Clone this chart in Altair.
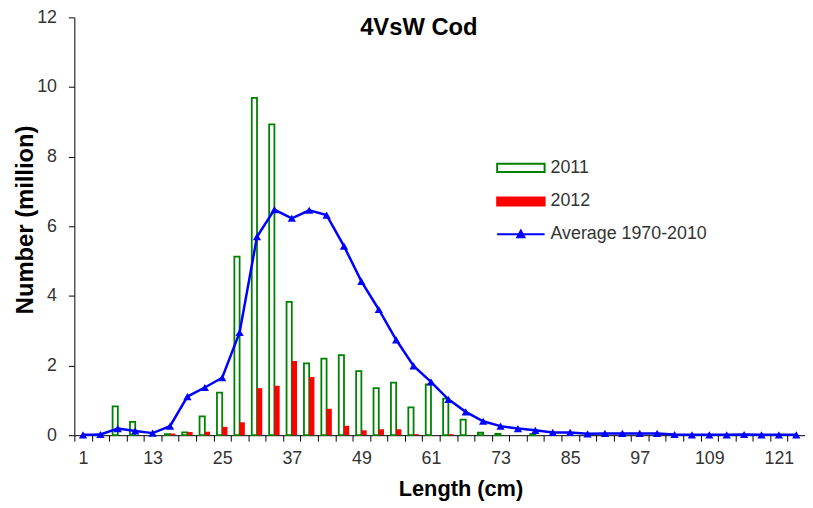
import altair as alt
import pandas as pd

# ---- data ----
LENGTHS = [1, 4, 7, 10, 13, 16, 19, 22, 25, 28, 31, 34, 37, 40, 43, 46, 49, 52, 55, 58, 61,
           64, 67, 70, 73, 76, 79, 82, 85, 88, 91, 94, 97, 100, 103, 106, 109, 112, 115,
           118, 121, 124]

Y2011 = [0, 0.02, 0.83, 0.38, 0, 0.03, 0.08, 0.54, 1.22, 5.13, 9.69, 8.93, 3.83, 2.06, 2.20,
         2.30, 1.84, 1.35, 1.51, 0.80, 1.46, 1.05, 0.45, 0.07, 0.04, 0, 0.03, 0, 0, 0, 0,
         0, 0, 0, 0, 0, 0, 0, 0, 0, 0, 0]

Y2012 = [0, 0, 0, 0, 0, 0.05, 0.09, 0.10, 0.24, 0.37, 1.35, 1.42, 2.13, 1.67, 0.76, 0.27,
         0.14, 0.17, 0.17, 0.03, 0, 0.03, 0, 0, 0, 0, 0, 0, 0, 0, 0, 0, 0, 0, 0, 0, 0, 0,
         0, 0, 0, 0]

AVG = [0.01, 0.02, 0.19, 0.12, 0.06, 0.26, 1.11, 1.37, 1.65, 2.95, 5.70, 6.48, 6.23, 6.46,
       6.32, 5.43, 4.42, 3.61, 2.74, 1.99, 1.53, 1.03, 0.67, 0.40, 0.26, 0.19, 0.14, 0.08,
       0.08, 0.04, 0.05, 0.05, 0.05, 0.05, 0.02, 0.01, 0.01, 0.01, 0.02, 0.01, 0.01, 0.01]

SERIES_BARS = ["2011", "2012"]
SERIES_LINE = "Average 1970-2010"
X_LABELS = [1, 13, 25, 37, 49, 61, 73, 85, 97, 109, 121]
Y_TICKS = [0, 2, 4, 6, 8, 10, 12]

bars_df = pd.DataFrame({
    "length": LENGTHS + LENGTHS,
    "series": [SERIES_BARS[0]] * len(LENGTHS) + [SERIES_BARS[1]] * len(LENGTHS),
    "value": Y2011 + Y2012,
})
avg_df = pd.DataFrame({"length": LENGTHS, "series": SERIES_LINE, "value": AVG})

FONT = "Arial"
GREEN = "#008000"
RED = "#FF0000"
BLUE = "#0000FF"
TXT = "#333333"

label_expr = "indexof([" + ",".join(str(v) for v in X_LABELS) + "], datum.value) >= 0 ? datum.label : ''"

x_enc = alt.X(
    "length:O",
    scale=alt.Scale(paddingInner=0, paddingOuter=0),
    axis=alt.Axis(
        title="Length (cm)", tickBand="extent", labelExpr=label_expr, labelAngle=0,
        labelOverlap=False, labelFontSize=18, labelFont=FONT, labelColor=TXT,
        labelPadding=9, tickSize=6, tickColor="black", domainColor="black",
        titleFont=FONT, titleFontSize=22, titleFontWeight="bold", titleColor="black",
        titleX=390, titleY=61, titleBaseline="alphabetic", grid=False,
    ),
)
y_enc = alt.Y(
    "value:Q",
    scale=alt.Scale(domain=[0, 12], nice=False),
    axis=alt.Axis(
        values=Y_TICKS, title="Number (million)", grid=False, tickSize=6,
        tickColor="black", domainColor="black", labelFontSize=18, labelFont=FONT,
        labelColor=TXT, labelPadding=12, titleFont=FONT, titleFontSize=24,
        titleFontWeight="bold", titleColor="black", titleX=-42, titleY=204,
        titleBaseline="alphabetic", titleAngle=-90,
    ),
)

RECT_PATH = "M-1,-0.17H1V0.17H-1Z"
LINE_TRI_PATH = "M-1,0H1M-0.15,0.13L0,-0.15L0.15,0.13Z"

common_legend = dict(
    orient="none", title=None, symbolSize=2304, symbolStrokeWidth=2, clipHeight=26,
    rowPadding=8, labelFontSize=18, labelFont=FONT, labelColor=TXT, labelOffset=5,
    padding=0, legendX=426,
)

bar_legend = alt.Legend(symbolType=RECT_PATH, legendY=139, **common_legend)

bars = alt.Chart(bars_df).transform_filter("datum.value > 0").mark_bar().encode(
    x=x_enc,
    xOffset=alt.XOffset("series:N", scale=alt.Scale(domain=SERIES_BARS, paddingInner=0, paddingOuter=0.66)),
    y=y_enc,
    fill=alt.Fill("series:N", scale=alt.Scale(domain=SERIES_BARS, range=["white", RED]), legend=bar_legend),
    stroke=alt.Stroke("series:N", scale=alt.Scale(domain=SERIES_BARS, range=[GREEN, RED]), legend=bar_legend),
    strokeWidth=alt.condition(alt.datum.series == SERIES_BARS[0], alt.value(1.8), alt.value(0)),
)

line = alt.Chart(avg_df).mark_line(color=BLUE, strokeWidth=2.5).encode(x=x_enc, y=y_enc)

pts = alt.Chart(avg_df).mark_point(filled=True, shape="triangle-up", size=70, opacity=1).encode(
    x=x_enc,
    y=y_enc,
    color=alt.Color(
        "series:N",
        scale=alt.Scale(domain=[SERIES_LINE], range=[BLUE]),
        legend=alt.Legend(symbolType=LINE_TRI_PATH, legendY=206, symbolStrokeColor=BLUE,
                          symbolFillColor=BLUE, **common_legend),
    ),
)

chart = alt.layer(bars, line, pts).properties(
    width=738,
    height=422,
    autosize=alt.AutoSizeParams(type="none"),
    padding={"left": 67, "top": 7, "right": 0, "bottom": 66},
    title=alt.TitleParams(
        "4VsW Cod", font=FONT, fontSize=24, fontWeight="bold", color="black",
        anchor="middle", frame="group", dx=-21, offset=-32,
    ),
).configure_view(stroke=None)

chart.save("out.html", embed_options={"renderer": "svg", "actions": False})
